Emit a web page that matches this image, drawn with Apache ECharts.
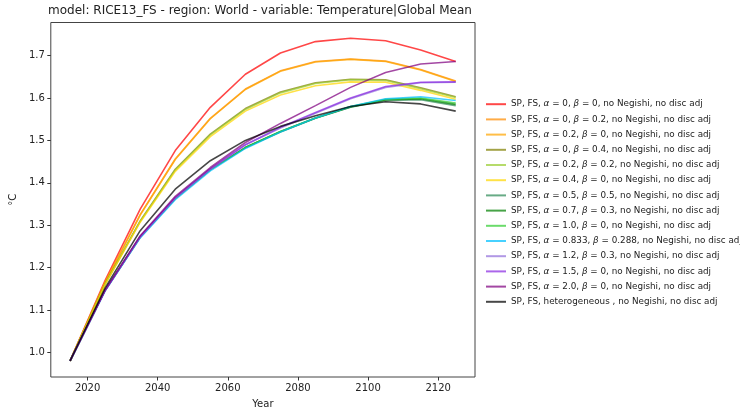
<!DOCTYPE html>
<html>
<head>
<meta charset="utf-8">
<script src="https://cdn.jsdelivr.net/npm/echarts@6/dist/echarts.min.js"></script>
<style>html,body{margin:0;padding:0;background:#fff;}#c{width:740px;height:414px;}</style>
</head>
<body>
<div id="c"></div>
<script>
const years = [2015, 2025, 2035, 2045, 2055, 2065, 2075, 2085, 2095, 2105, 2115, 2125];
const xTicks = [2020, 2040, 2060, 2080, 2100, 2120];
const yTicks = [1.0, 1.1, 1.2, 1.3, 1.4, 1.5, 1.6, 1.7];

const names = [
  "SP, FS, α = 0, β = 0, no Negishi, no disc adj",
  "SP, FS, α = 0, β = 0.2, no Negishi, no disc adj",
  "SP, FS, α = 0.2, β = 0, no Negishi, no disc adj",
  "SP, FS, α = 0, β = 0.4, no Negishi, no disc adj",
  "SP, FS, α = 0.2, β = 0.2, no Negishi, no disc adj",
  "SP, FS, α = 0.4, β = 0, no Negishi, no disc adj",
  "SP, FS, α = 0.5, β = 0.5, no Negishi, no disc adj",
  "SP, FS, α = 0.7, β = 0.3, no Negishi, no disc adj",
  "SP, FS, α = 1.0, β = 0, no Negishi, no disc adj",
  "SP, FS, α = 0.833, β = 0.288, no Negishi, no disc adj",
  "SP, FS, α = 1.2, β = 0.3, no Negishi, no disc adj",
  "SP, FS, α = 1.5, β = 0, no Negishi, no disc adj",
  "SP, FS, α = 2.0, β = 0, no Negishi, no disc adj",
  "SP, FS, heterogeneous , no Negishi, no disc adj"
];

const a0b0     = [0.98, 1.170, 1.338, 1.476, 1.578, 1.656, 1.706, 1.733, 1.741, 1.735, 1.713, 1.686];
const a0b02    = [0.98, 1.166, 1.325, 1.456, 1.552, 1.621, 1.664, 1.686, 1.692, 1.687, 1.667, 1.640];
const a02b0    = [0.98, 1.165, 1.324, 1.455, 1.551, 1.620, 1.663, 1.685, 1.691, 1.686, 1.666, 1.639];
const a0b04    = [0.98, 1.162, 1.310, 1.432, 1.515, 1.575, 1.614, 1.636, 1.644, 1.643, 1.624, 1.603];
const a02b02   = [0.98, 1.161, 1.309, 1.430, 1.513, 1.573, 1.612, 1.634, 1.643, 1.641, 1.622, 1.601];
const a04b0    = [0.98, 1.160, 1.307, 1.427, 1.509, 1.569, 1.607, 1.629, 1.638, 1.637, 1.618, 1.597];
const a05b05   = [0.98, 1.147, 1.272, 1.363, 1.431, 1.483, 1.520, 1.552, 1.578, 1.594, 1.596, 1.582];
const a07b03   = [0.98, 1.147, 1.272, 1.363, 1.431, 1.483, 1.521, 1.553, 1.579, 1.596, 1.598, 1.585];
const a10b0    = [0.98, 1.146, 1.272, 1.363, 1.431, 1.483, 1.521, 1.553, 1.580, 1.597, 1.600, 1.588];
const a0833b0288 = [0.98, 1.145, 1.270, 1.360, 1.428, 1.481, 1.520, 1.553, 1.580, 1.598, 1.603, 1.594];
const a12b03   = [0.98, 1.146, 1.272, 1.364, 1.432, 1.489, 1.529, 1.564, 1.598, 1.625, 1.636, 1.637];
const a15b0    = [0.98, 1.146, 1.273, 1.365, 1.433, 1.490, 1.531, 1.566, 1.600, 1.627, 1.637, 1.638];
const a20b0    = [0.98, 1.147, 1.275, 1.368, 1.436, 1.495, 1.540, 1.582, 1.625, 1.660, 1.680, 1.686];
const hetero   = [0.98, 1.152, 1.287, 1.385, 1.452, 1.500, 1.533, 1.558, 1.580, 1.591, 1.586, 1.569];

const seriesData = [a0b0, a0b02, a02b0, a0b04, a02b02, a04b0, a05b05, a07b03, a10b0, a0833b0288, a12b03, a15b0, a20b0, hetero];
const colors = [
  'rgba(255,0,0,0.72)', 'rgba(255,140,0,0.72)', 'rgba(255,165,0,0.72)', 'rgba(128,128,0,0.72)',
  'rgba(154,205,50,0.72)', 'rgba(255,215,0,0.72)', 'rgba(46,139,87,0.72)', 'rgba(0,128,0,0.72)',
  'rgba(50,205,50,0.72)', 'rgba(0,191,255,0.72)', 'rgba(147,112,219,0.72)', 'rgba(138,43,226,0.72)',
  'rgba(128,0,128,0.72)', 'rgba(0,0,0,0.72)'
];

const FONT = 'DejaVu Sans';
const chart = echarts.init(document.getElementById('c'), null, {renderer: 'canvas'});

const series = seriesData.map((d, i) => ({
  name: names[i],
  type: 'line',
  data: years.map((y, k) => [y, d[k]]),
  symbol: 'none',
  color: colors[i],
  lineStyle: {width: 1.6, color: colors[i]},
  itemStyle: {color: colors[i]},
  emphasis: {disabled: true},
  animation: false,
  z: 2
}));

chart.setOption({
  animation: false,
  backgroundColor: '#fff',
  title: {
    text: 'model: RICE13_FS - region: World - variable: Temperature|Global Mean',
    left: 260, top: 5, textAlign: 'center', padding: 0,
    textStyle: {fontFamily: FONT, fontSize: 12, fontWeight: 'normal', color: '#222'}
  },
  grid: {left: 45, right: 265, top: 22.5, bottom: 29, show: true, borderColor: '#444', borderWidth: 1, backgroundColor: 'transparent'},
  legend: {
    orient: 'vertical', left: 486, top: 97.7, padding: 0,
    icon: 'rect', itemWidth: 20, itemHeight: 2, itemGap: 2.2,
    data: names,
    formatter: function (n) { return n.replace(/α/g, '{i|α}').replace(/β/g, '{i|β}'); },
    textStyle: {
      fontFamily: FONT, fontSize: 8.8, color: '#222', lineHeight: 13,
      rich: {i: {fontFamily: FONT, fontStyle: 'italic', fontSize: 8.8, color: '#222', lineHeight: 13}}
    }
  },
  xAxis: {
    type: 'value', min: 2009.5, max: 2130.5,
    name: 'Year', nameLocation: 'middle', nameGap: 22,
    nameTextStyle: {fontFamily: FONT, fontSize: 10, color: '#222'},
    axisLine: {show: false},
    splitLine: {show: false},
    axisTick: {show: true, length: 3.5, customValues: xTicks, lineStyle: {color: '#333'}},
    axisLabel: {customValues: xTicks, fontFamily: FONT, fontSize: 10, color: '#222', margin: 6, formatter: v => String(v)}
  },
  yAxis: {
    type: 'value', min: 0.942, max: 1.778,
    name: '°C', nameLocation: 'middle', nameGap: 29, nameRotate: 90,
    nameTextStyle: {fontFamily: FONT, fontSize: 10, color: '#222'},
    axisLine: {show: false},
    splitLine: {show: false},
    axisTick: {show: true, length: 3.5, customValues: yTicks, lineStyle: {color: '#333'}},
    axisLabel: {customValues: yTicks, fontFamily: FONT, fontSize: 10, color: '#222', margin: 6, formatter: v => v.toFixed(1)}
  },
  series: series
});
</script>
</body>
</html>
